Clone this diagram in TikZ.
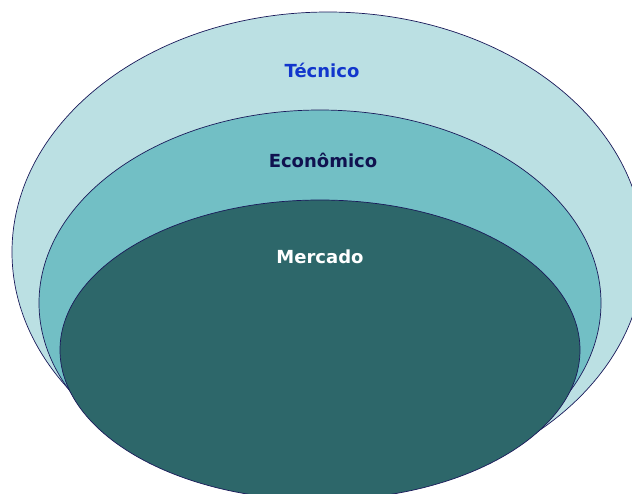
\documentclass[tikz,border=0pt]{standalone}
\usepackage{fontspec}
\setmainfont{DejaVu Sans}
\usetikzlibrary{shapes.geometric}

\definecolor{outerfill}{HTML}{BBE0E3}
\definecolor{middlefill}{HTML}{72BFC5}
\definecolor{innerfill}{HTML}{2D676A}
\definecolor{edgecol}{HTML}{1A1A5A}
\definecolor{tecblue}{HTML}{1236CC}
\definecolor{econavy}{HTML}{10124F}

\begin{document}
\begin{tikzpicture}[x=1pt, y=-1pt,
    layer/.style={ellipse, draw=edgecol, line width=0.7pt, inner sep=0pt},
    tag/.style={anchor=base, font=\bfseries\fontsize{18}{20}\selectfont}
]

% Page frame
\useasboundingbox (0,0) rectangle (632,493);
\clip (0,0) rectangle (632,493);

% Nested layers, outer to inner
\node[layer, fill=outerfill, minimum width=632pt, minimum height=480pt] (tecnico) at (328,252) {};
\node[layer, fill=middlefill, minimum width=562pt, minimum height=386pt] (economico) at (320,303) {};
\node[layer, fill=innerfill, minimum width=520pt, minimum height=300pt] (mercado) at (320,350) {};

% Labels
\node[tag, text=tecblue] (tecnico-label) at (322,77) {Técnico};
\node[tag, text=econavy] (economico-label) at (323,167) {Econômico};
\node[tag, text=white] (mercado-label) at (320,263) {Mercado};

\end{tikzpicture}
\end{document}
